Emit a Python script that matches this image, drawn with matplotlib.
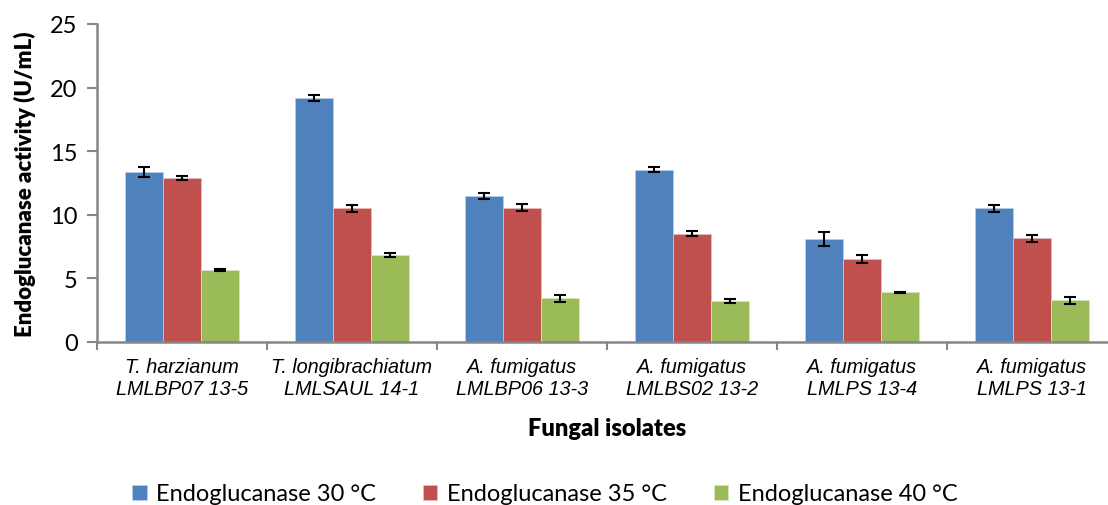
import numpy as np
import matplotlib.pyplot as plt

# endoglucanase activity (U/mL) per isolate and temperature
isolates = ["T. harzianum\nLMLBP07 13-5",
            "T. longibrachiatum\nLMLSAUL 14-1",
            "A. fumigatus\nLMLBP06 13-3",
            "A. fumigatus\nLMLBS02 13-2",
            "A. fumigatus\nLMLPS 13-4",
            "A. fumigatus\nLMLPS 13-1"]
series = ["Endoglucanase 30 °C", "Endoglucanase 35 °C", "Endoglucanase 40 °C"]
act_30 = [13.36, 19.19, 11.48, 13.54, 8.08, 10.51]
act_35 = [12.92, 10.50, 10.56, 8.52, 6.51, 8.16]
act_40 = [5.65, 6.85, 3.42, 3.22, 3.90, 3.29]
err_30 = [0.40, 0.25, 0.25, 0.20, 0.57, 0.27]
err_35 = [0.15, 0.30, 0.29, 0.17, 0.30, 0.27]
err_40 = [0.05, 0.15, 0.26, 0.17, 0.05, 0.27]

colors = ["#4F81BD", "#C0504D", "#9BBB59"]
edges = ["#B9CDE5", "#E6B9B8", "#D7E4BD"]
axis_gray = "#868686"
font = "Lato"

fig = plt.figure(figsize=(11.08, 5.06), dpi=100)
ax = fig.add_axes([97 / 1108, 1 - 343 / 506, 1020 / 1108, 318 / 506])

x = np.arange(len(isolates))
w = 0.222
for i, (vals, errs) in enumerate([(act_30, err_30), (act_35, err_35), (act_40, err_40)]):
    ax.bar(x + (i - 1) * w, vals, w, color=colors[i], edgecolor=edges[i],
           linewidth=0.6, label=series[i], zorder=2)
    ax.errorbar(x + (i - 1) * w, vals, yerr=errs, fmt="none", ecolor="black",
                elinewidth=1.5, capsize=4.3, capthick=1.5, zorder=3)

ax.set_xlim(-0.5, len(isolates) - 0.5)
ax.set_ylim(0, 25)
ax.set_yticks(np.arange(0, 26, 5))
ax.set_xticks(np.arange(-0.5, len(isolates)), minor=True)
ax.set_xticks(x)
ax.set_xticklabels(isolates, fontstyle="italic", family="Liberation Sans",
                   fontsize=14.3, linespacing=1.2)
ax.tick_params(axis="x", which="major", length=0, pad=11)
ax.tick_params(axis="x", which="minor", length=6, width=1.5, color=axis_gray)
ax.tick_params(axis="y", length=7, width=1.5, color=axis_gray, pad=7)
for lab in ax.get_yticklabels():
    lab.set_family(font)
    lab.set_fontsize(17)

for s in ["top", "right"]:
    ax.spines[s].set_visible(False)
for s in ["left", "bottom"]:
    ax.spines[s].set_color(axis_gray)
    ax.spines[s].set_linewidth(1.8)

ax.set_ylabel("Endoglucanase activity (U/mL)", family=font, fontweight="heavy",
              fontsize=16, labelpad=10)
fig.text(607 / 1108, 1 - 429 / 506, "Fungal isolates", family=font,
         fontweight="heavy", fontsize=17, ha="center", va="center")

handles, labels = ax.get_legend_handles_labels()
fig.legend(handles, labels, loc="center", bbox_to_anchor=(545 / 1108, 1 - 495 / 506),
           ncol=3, frameon=False, prop={"family": font, "size": 17},
           handlelength=0.6, handleheight=0.6, handletextpad=0.4, columnspacing=2.0)

fig.savefig("out.png", dpi=100)
